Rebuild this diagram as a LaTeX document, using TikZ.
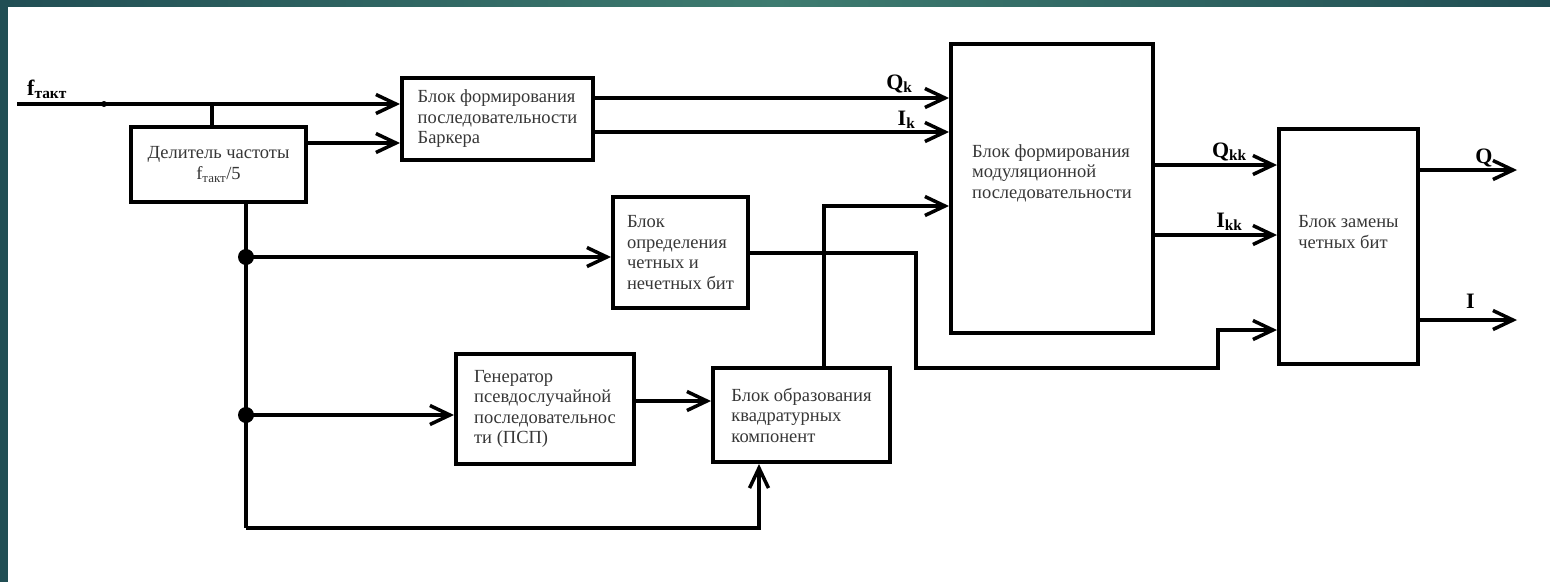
\documentclass[tikz,border=0pt]{standalone}
\usepackage{fontspec}
\setmainfont{Liberation Serif}
\usetikzlibrary{arrows.meta,positioning,calc}
\definecolor{slidedark}{RGB}{33,78,84}
\definecolor{slidelight}{RGB}{62,124,112}
\definecolor{txtgray}{RGB}{55,55,55}

\tikzset{
  wire/.style={line width=3.5pt},
  sig/.style={wire, -{Straight Barb[length=20pt,width=19pt]}},
  blockbox/.style={draw, line width=4pt, align=left, inner sep=2pt, text=txtgray,
    font=\fontsize{18.5}{20.5}\selectfont},
  blocktext/.style={align=left, inner sep=0pt, text=txtgray,
    font=\fontsize{18.5}{20.5}\selectfont},
  siglabel/.style={inner sep=0pt, anchor=base, font=\fontsize{22}{24}\selectfont\bfseries},
}

\begin{document}
\begin{tikzpicture}[x=1pt,y=-1pt]
            % slide background
            \fill[white] (0,0) rectangle (1550,582);
            \useasboundingbox (0,0) rectangle (1550,582);
            \shade[left color=slidedark, right color=slidedark, middle color=slidelight] (0,0) rectangle (1550,6);
            \fill[slidedark] (0,0) rectangle (8,582);

            % Blocks
            \node[blockbox, align=center, minimum width=175pt, minimum height=75pt] (div) at (218.5,164.5) {
                Делитель частоты\\f\textsubscript{такт}/5
            };
            \node[blockbox, minimum width=191pt, minimum height=82pt] (bark) at (497.5,119) {
                Блок формирования\\последовательности\\Баркера
            };
            \node[blockbox, minimum width=135pt, minimum height=111pt] (det) at (680.5,252.5) {
                Блок\\определения\\четных и\\нечетных бит
            };
            \node[blockbox, minimum width=178pt, minimum height=110pt] (psp) at (545,409) {
                Генератор\\псевдослучайной\\последовательнос\\ти (ПСП)
            };
            \node[blockbox, minimum width=177pt, minimum height=94pt] (quad) at (801.5,415) {
                Блок образования\\квадратурных\\компонент
            };
            \node[blockbox, minimum width=202pt, minimum height=289pt] (mod) at (1052,188.5) {};
            \node[blocktext] (modtxt) at ([yshift=15.5pt]mod.center) {
                Блок формирования\\модуляционной\\последовательности
            };
            \node[blockbox, minimum width=139pt, minimum height=235pt] (rep) at (1348.5,246.5) {};
            \node[blocktext] (reptxt) at ([yshift=14.5pt]rep.center) {
                Блок замены\\четных бит
            };

            % Points and levels
            \coordinate (fin) at (17,104);
            \coordinate (fdot) at (104,104);
            \coordinate (fj) at (212,104);
            \coordinate (dvb) at (0,143);
            \coordinate (n1) at (246,257);
            \coordinate (n2) at (246,415);
            \coordinate (n3) at (246,528);
            \coordinate (n4) at (759,528);
            \coordinate (pq) at (0,401);
            \coordinate (qo) at (824,206);
            \coordinate (k1) at (916,253);
            \coordinate (k2) at (916,368);
            \coordinate (k3) at (1218,330);
            \coordinate (qk) at (0,98);
            \coordinate (ik) at (0,132);
            \coordinate (qkk) at (0,165);
            \coordinate (ikk) at (0,235);
            \coordinate (qend) at (1517,170);
            \coordinate (iend) at (1517,320);

            % Clock input
            \node[siglabel, anchor=base west] (flbl) at (27,95) {f\textsubscript{такт}};
            \draw[sig] (fin) -- (fin -| bark.west);
            \fill (fdot) circle (3pt);
            \draw[wire] (fj) -- (fj |- div.north);
            \draw[sig] (div.east |- dvb) -- (bark.west |- dvb);

            % Divider outputs
            \draw[wire] (div.south -| n1) -- (n3);
            \draw[sig] (n3) -| (quad.south -| n4);
            \draw[sig] (n1) -- (n1 -| det.west);
            \draw[sig] (n2) -- (n2 -| psp.west);
            \fill (n1) circle (8pt);
            \fill (n2) circle (8pt);

            % Arrows
            \draw[sig] (psp.east |- pq) -- (quad.west |- pq);
            \draw[sig] (quad.north -| qo) |- (mod.west |- qo);
            \draw[sig] (det.east |- k1) -| (k2) -| (k3) -- (rep.west |- k3);
            \draw[sig] (bark.east |- qk) -- node[siglabel, pos=0.86, yshift=9pt] {Q\textsubscript{k}} (mod.west |- qk);
            \draw[sig] (bark.east |- ik) -- node[siglabel, pos=0.88, yshift=7pt] {I\textsubscript{k}} (mod.west |- ik);
            \draw[sig] (mod.east |- qkk) -- node[siglabel, pos=0.61, yshift=8pt] {Q\textsubscript{kk}} (rep.west |- qkk);
            \draw[sig] (mod.east |- ikk) -- node[siglabel, pos=0.61, yshift=8pt] {I\textsubscript{kk}} (rep.west |- ikk);
            \draw[sig] (rep.east |- qend) -- node[siglabel, pos=0.66, yshift=7pt] {Q} (qend);
            \draw[sig] (rep.east |- iend) -- node[siglabel, pos=0.52, yshift=12pt] {I} (iend);
        \end{tikzpicture}
\end{document}
